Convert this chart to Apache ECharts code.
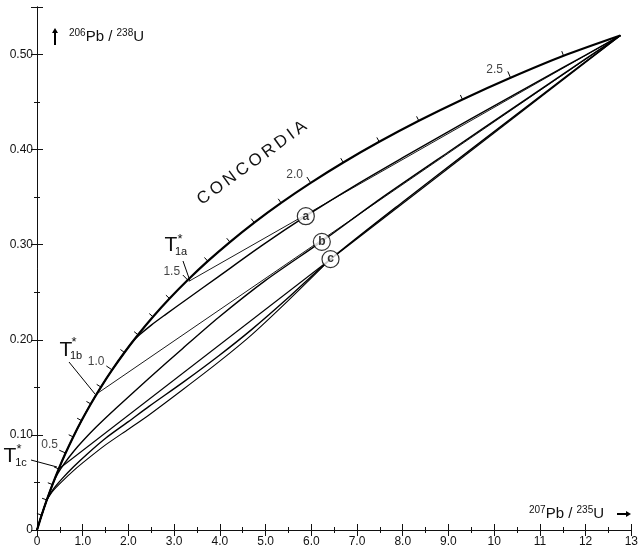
<!DOCTYPE html>
<html><head><meta charset="utf-8">
<script src="https://cdn.jsdelivr.net/npm/echarts@6/dist/echarts.min.js"></script>
<style>html,body{margin:0;padding:0;background:#fff}#c{width:641px;height:553px}</style>
</head><body><div id="c"></div>
<script>
// Concordia: ages (Ga) and ratios
const conAge = [0,0.1,0.2,0.3,0.4,0.5,0.6,0.7,0.8,0.9,1.0,1.1,1.2,1.3,1.4,1.5,1.6,1.7,1.8,1.9,2.0,2.1,2.2,2.3,2.4,2.5,2.6,2.697];
const conX = [0,0.1021,0.2146,0.3386,0.4752,0.6258,0.7918,0.9747,1.1762,1.3984,1.6432,1.9130,2.2104,2.5381,2.8993,3.2974,3.7361,4.2195,4.7524,5.3396,5.9867,6.7000,7.4861,8.3525,9.3073,10.3589,11.5179,12.76];
const conY = [0,0.01568,0.03161,0.04779,0.06422,0.08091,0.09786,0.11507,0.13256,0.15032,0.16836,0.18668,0.20529,0.22419,0.24339,0.26288,0.28269,0.30280,0.32324,0.34399,0.36506,0.38647,0.40821,0.43030,0.45272,0.47551,0.49864,0.5200];
const conLabelAges = [0.5,1.0,1.5,2.0,2.5];

// Curve a
const curveAX = [0,0.1021,0.2146,0.3386,0.4752,0.6258,0.7918,0.9747,1.1762,1.3984,1.6432,1.9130,2.10,2.25,2.5,2.81,3.3,3.97,4.9,5.88,7.0,8.0,9.0,10.0,11.0,12.0,12.76];
const curveAY = [0,0.01568,0.03161,0.04779,0.06422,0.08091,0.09786,0.11507,0.13256,0.15032,0.16836,0.18668,0.1985,0.2055,0.2155,0.2265,0.2435,0.2665,0.2985,0.3300,0.3635,0.3915,0.4190,0.4460,0.4728,0.4995,0.5200];
// Curve b
const curveBX = [0,0.1021,0.2146,0.3386,0.45,0.6,0.8,1.0,1.3,1.74,2.45,3.2,3.97,5.0,6.23,7.5,9.0,10.5,12.0,12.76];
const curveBY = [0,0.0157,0.0316,0.0478,0.0590,0.0700,0.0825,0.0935,0.1085,0.1285,0.1595,0.1915,0.2235,0.2625,0.3035,0.3480,0.3975,0.4465,0.4955,0.5200];
// Curve c (upper and lower strands, meeting at point c)
const curveC1X = [0,0.1021,0.2146,0.35,0.55,0.8,1.1,1.5,2.0,2.45,3.2,3.97,4.7,5.5,6.42,8.0,9.5,11.0,12.0,12.76];
const curveC1Y = [0,0.0157,0.0316,0.0425,0.0540,0.0665,0.0800,0.0965,0.1140,0.1300,0.1555,0.1830,0.2110,0.2445,0.2848,0.3450,0.4005,0.4558,0.4925,0.5200];
const curveC2X = [0.2146,0.35,0.55,0.8,1.1,1.5,2.0,2.45,3.2,3.97,4.7,5.5,6.42];
const curveC2Y = [0.0316,0.0412,0.0512,0.0625,0.0745,0.0895,0.1060,0.1210,0.1480,0.1765,0.2055,0.2415,0.2848];

// Chords from T1* points on concordia to the upper intercept
const chordA = [[3.32,0.2615],[12.76,0.5200]];
const chordB = [[1.307,0.1432],[12.76,0.5200]];
const chordC = [[0.4752,0.0642],[12.76,0.5200]];

// Circled point labels
const circLabels = ['a','b','c'];
const circX = [5.88,6.23,6.42];
const circY = [0.330,0.303,0.2848];

// Tick labels
const xTickLabels = ['0','1.0','2.0','3.0','4.0','5.0','6.0','7.0','8.0','9.0','10','11','12','13'];
const yTickLabels = ['0','0.10','0.20','0.30','0.40','0.50'];

const FONT = 'Liberation Sans';
const zip = (xs, ys) => xs.map((x, i) => [x, ys[i]]);

const chart = echarts.init(document.getElementById('c'), null, {renderer: 'canvas'});

const axisCommon = {
  type: 'value',
  axisLine: {show: true, lineStyle: {color: '#111', width: 1}},
  axisTick: {show: true, inside: true, length: 6, lineStyle: {color: '#111', width: 1}},
  minorTick: {show: true, splitNumber: 2, length: 3, lineStyle: {color: '#111', width: 1}},
  splitLine: {show: false},
  minorSplitLine: {show: false}
};

const curveLine = (name, xs, ys, w) => ({type: 'line', name, data: zip(xs, ys), smooth: 0.25, showSymbol: false,
  lineStyle: {color: '#000', width: w}});

const option = {
  animation: false,
  backgroundColor: '#fff',
  grid: {left: 37, right: 5, top: 7, bottom: 23, containLabel: false},
  xAxis: [
    Object.assign({}, axisCommon, {
      min: 0, max: 13, interval: 1, position: 'bottom',
      axisLabel: {show: true, color: '#111', fontFamily: FONT, fontSize: 12, margin: 6,
        formatter: (v) => xTickLabels[Math.round(v)] || ''}
    }),
    Object.assign({}, axisCommon, {
      min: 0, max: 13, interval: 1, position: 'top',
      axisLabel: {show: false}
    })
  ],
  yAxis: [
    Object.assign({}, axisCommon, {
      min: 0, max: 0.55, interval: 0.1, position: 'left',
      axisLabel: {show: true, color: '#111', fontFamily: FONT, fontSize: 12, margin: 4, showMaxLabel: false,
        formatter: (v) => { const i = Math.round(v * 10); return (Math.abs(v * 10 - i) < 1e-6 && yTickLabels[i]) || ''; }}
    }),
    Object.assign({}, axisCommon, {
      min: 0, max: 0.55, interval: 0.1, position: 'right',
      axisLabel: {show: false}
    })
  ],
  series: [
    {
      type: 'line', name: 'concordia', data: zip(conX, conY), smooth: 0.3, showSymbol: false,
      lineStyle: {color: '#000', width: 2.2}, z: 5
    },
    {
      type: 'custom', name: 'concordiaTicks',
      data: conAge.map((a, i) => [conX[i], conY[i], i]).slice(1, conAge.length - 1),
      renderItem: function (params, api) {
        const i = api.value(2);
        const p = api.coord([conX[i], conY[i]]);
        const pa = api.coord([conX[i - 1], conY[i - 1]]);
        const pb = api.coord([conX[i + 1], conY[i + 1]]);
        let tx = pb[0] - pa[0], ty = pb[1] - pa[1];
        const L = Math.hypot(tx, ty) || 1; tx /= L; ty /= L;
        const nx = ty, ny = -tx;
        const major = Math.abs(conAge[i] * 2 - Math.round(conAge[i] * 2)) < 1e-6;
        const len = major ? 7 : 5;
        return {type: 'line', shape: {x1: p[0], y1: p[1], x2: p[0] + nx * len, y2: p[1] + ny * len},
          style: {stroke: '#000', lineWidth: 1}};
      },
      z: 6
    },
    {
      type: 'scatter', name: 'concordiaLabels', symbolSize: 0,
      data: conLabelAges.map(a => { const i = conAge.findIndex(t => Math.abs(t - a) < 1e-6); return [conX[i], conY[i], a]; }),
      label: {show: true, position: 'inside', offset: [-16, -8], color: '#111', fontFamily: FONT, fontSize: 12,
        formatter: (p) => p.value[2].toFixed(1)},
      z: 7
    },
    curveLine('curveA', curveAX, curveAY, 1.4),
    curveLine('curveB', curveBX, curveBY, 1.4),
    curveLine('curveC1', curveC1X, curveC1Y, 1.4),
    curveLine('curveC2', curveC2X, curveC2Y, 1.1),
    {type: 'line', name: 'chordA', data: chordA, showSymbol: false, lineStyle: {color: '#000', width: 0.9}},
    {type: 'line', name: 'chordB', data: chordB, showSymbol: false, lineStyle: {color: '#000', width: 0.9}},
    {type: 'line', name: 'chordC', data: chordC, showSymbol: false, lineStyle: {color: '#000', width: 1.1}},
    {
      type: 'scatter', name: 'circles', symbol: 'circle', symbolSize: 17,
      data: circLabels.map((l, i) => [circX[i], circY[i], l]),
      itemStyle: {color: '#fff', borderColor: '#000', borderWidth: 1.2},
      label: {show: true, position: 'inside', color: '#000', fontFamily: FONT, fontWeight: 'bold', fontSize: 12,
        formatter: (p) => p.value[2]},
      z: 10
    }
  ],
  graphic: [
    // y-axis title
    {type: 'line', shape: {x1: 55, y1: 45, x2: 55, y2: 31}, style: {stroke: '#000', lineWidth: 2}},
    {type: 'polygon', shape: {points: [[52, 33], [58, 33], [55, 28]]}, style: {fill: '#000'}},
    {type: 'text', left: 69, top: 28, style: {
      text: '{s|206}{n|Pb / }{s|238}{n|U}', fontFamily: FONT, fill: '#111',
      rich: {s: {fontSize: 10, verticalAlign: 'top', lineHeight: 17, fontFamily: FONT, fill: '#111'},
             n: {fontSize: 15, lineHeight: 17, fontFamily: FONT, fill: '#111'}}}},
    // x-axis title
    {type: 'text', left: 529, top: 505, style: {
      text: '{s|207}{n|Pb / }{s|235}{n|U}', fontFamily: FONT, fill: '#111',
      rich: {s: {fontSize: 10, verticalAlign: 'top', lineHeight: 17, fontFamily: FONT, fill: '#111'},
             n: {fontSize: 15, lineHeight: 17, fontFamily: FONT, fill: '#111'}}}},
    {type: 'line', shape: {x1: 617, y1: 514, x2: 628, y2: 514}, style: {stroke: '#000', lineWidth: 2}},
    {type: 'polygon', shape: {points: [[626, 511], [626, 517], [631, 514]]}, style: {fill: '#000'}},
    // CONCORDIA
    {type: 'text', x: 252, y: 163, rotation: 36 * Math.PI / 180, style: {
      text: 'C\u2009O\u2009N\u2009C\u2009O\u2009R\u2009D\u2009I\u2009A', fontFamily: FONT, fontSize: 17,
      fill: '#111', align: 'center', verticalAlign: 'middle'}},
    // T1a*
    {type: 'text', x: 171, y: 245, style: {text: 'T', fontFamily: FONT, fontSize: 21, fill: '#111', align: 'center', verticalAlign: 'middle'}},
    {type: 'text', x: 181, y: 252, style: {text: '1a', fontFamily: FONT, fontSize: 11, fill: '#111', align: 'center', verticalAlign: 'middle'}},
    {type: 'text', x: 180, y: 239, style: {text: '*', fontFamily: FONT, fontSize: 13, fill: '#111', align: 'center', verticalAlign: 'middle'}},
    {type: 'line', shape: {x1: 183, y1: 261, x2: 190, y2: 281}, style: {stroke: '#000', lineWidth: 1}},
    // T1b*
    {type: 'text', x: 66, y: 350, style: {text: 'T', fontFamily: FONT, fontSize: 21, fill: '#111', align: 'center', verticalAlign: 'middle'}},
    {type: 'text', x: 76, y: 356, style: {text: '1b', fontFamily: FONT, fontSize: 11, fill: '#111', align: 'center', verticalAlign: 'middle'}},
    {type: 'text', x: 74, y: 342, style: {text: '*', fontFamily: FONT, fontSize: 13, fill: '#111', align: 'center', verticalAlign: 'middle'}},
    {type: 'line', shape: {x1: 69, y1: 362, x2: 95, y2: 394}, style: {stroke: '#000', lineWidth: 1}},
    // T1c*
    {type: 'text', x: 10, y: 456, style: {text: 'T', fontFamily: FONT, fontSize: 21, fill: '#111', align: 'center', verticalAlign: 'middle'}},
    {type: 'text', x: 21, y: 463, style: {text: '1c', fontFamily: FONT, fontSize: 11, fill: '#111', align: 'center', verticalAlign: 'middle'}},
    {type: 'text', x: 19, y: 449, style: {text: '*', fontFamily: FONT, fontSize: 13, fill: '#111', align: 'center', verticalAlign: 'middle'}},
    {type: 'line', shape: {x1: 31, y1: 460, x2: 57, y2: 467}, style: {stroke: '#000', lineWidth: 1}}
  ]
};
chart.setOption(option);
</script>
</body></html>
